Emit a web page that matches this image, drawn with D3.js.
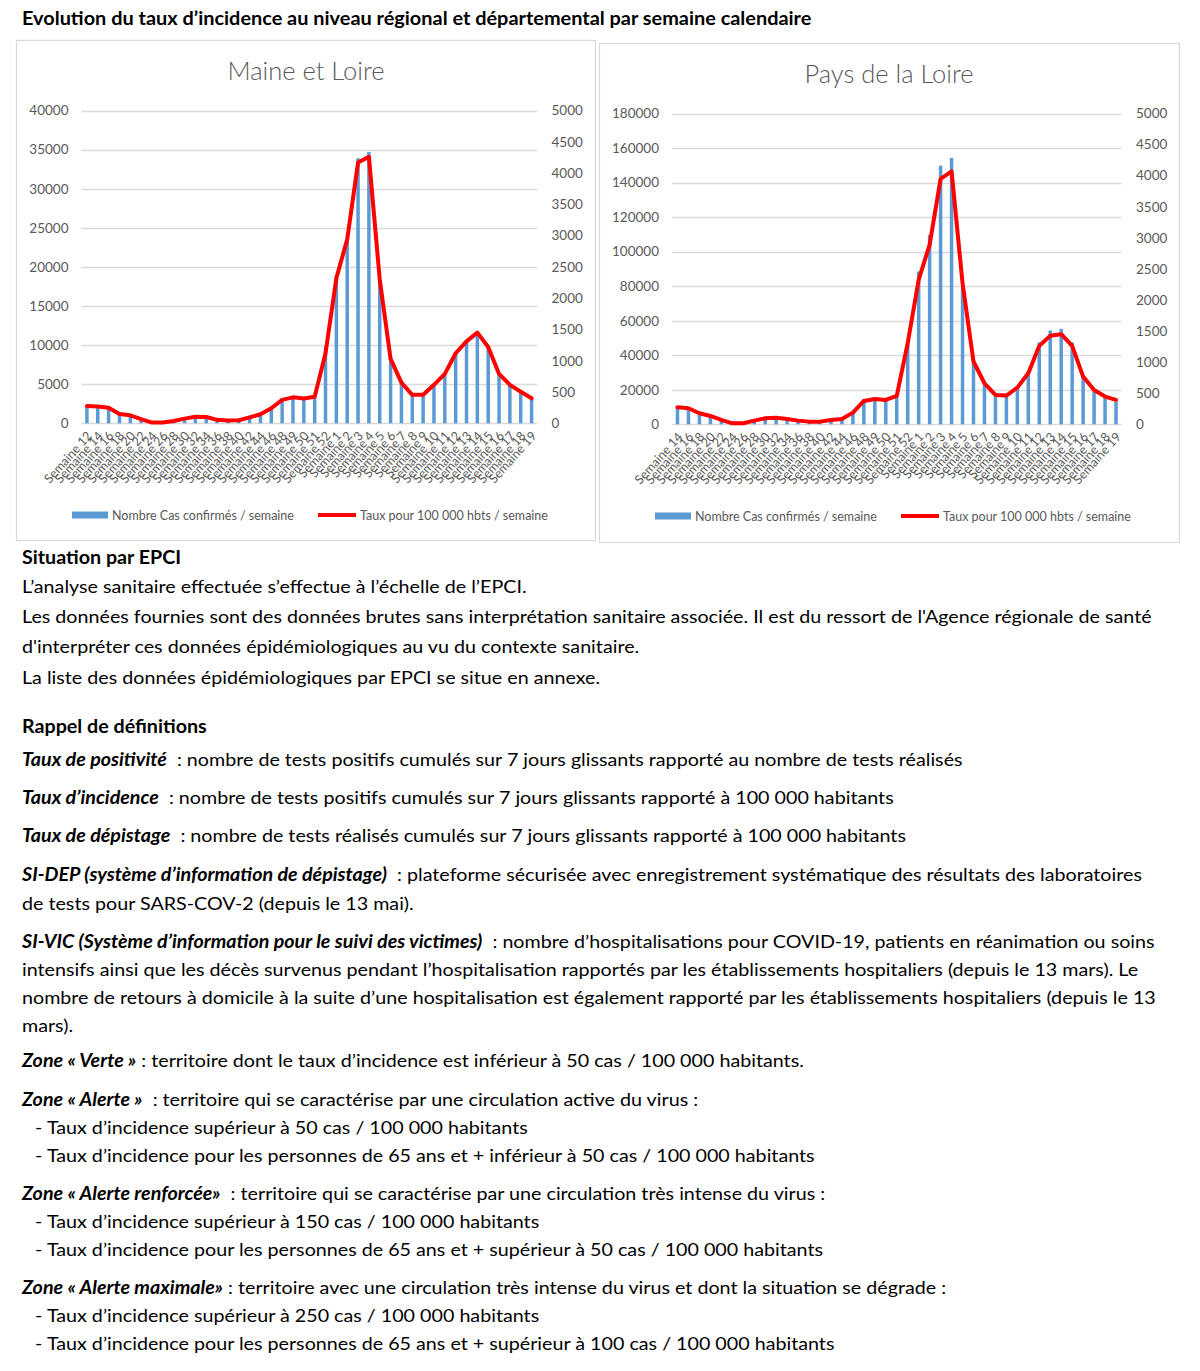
<!DOCTYPE html>
<html><head><meta charset="utf-8">
<script src="https://cdn.jsdelivr.net/npm/d3@7/dist/d3.min.js"></script>
<style>
body{margin:0;background:#fff}
svg text{white-space:pre}
</style>
</head><body>
<svg id="page" width="1200" height="1371"></svg>
<script>
// ---------- DATA ----------
const mlWeeks = [12,14,16,18,20,22,24,26,28,30,32,34,36,38,40,42,44,46,48,49,50,51,52,1,2,3,4,5,6,7,8,9,10,11,12,13,14,15,16,17,18,19];
const mlCases = [2300,2200,2000,1250,1050,550,100,100,300,600,850,800,450,350,400,750,1150,1900,3000,3300,3200,3400,9800,18900,23400,33900,34700,18200,8300,5200,3600,3600,4900,6400,9100,10500,11600,9800,6400,4900,4100,3200];
const mlRates = [277,270,250,150,128,66,12,12,37,75,105,100,55,45,48,95,145,240,375,415,395,425,1120,2320,2940,4170,4260,2300,1030,650,455,455,615,790,1120,1310,1450,1220,790,615,505,400];
const mlCaseTicks = [0,5000,10000,15000,20000,25000,30000,35000,40000];
const mlRateTicks = [0,500,1000,1500,2000,2500,3000,3500,4000,4500,5000];

const pdlWeeks = [14,16,18,20,22,24,26,28,30,32,34,36,38,40,42,44,46,48,49,50,51,52,1,2,3,4,5,6,7,8,9,10,11,12,13,14,15,16,17,18,19];
const pdlCases = [10400,9800,6700,5100,2700,600,600,2200,3700,4100,3300,2200,1600,1600,2700,3300,7100,14300,15500,15100,16400,47900,88500,109800,149800,154300,78900,36300,23800,16000,16000,20900,30500,47500,54300,55300,47500,28600,18900,15700,13100];
const pdlRates = [274,258,177,134,70,16,16,59,97,107,86,59,43,43,70,86,188,376,408,392,456,1305,2325,2890,3947,4070,2272,1010,660,473,462,590,822,1262,1423,1450,1262,768,553,446,392];
const pdlCaseTicks = [0,20000,40000,60000,80000,100000,120000,140000,160000,180000];
const pdlRateTicks = [0,500,1000,1500,2000,2500,3000,3500,4000,4500,5000];

const seriesNames = ["Nombre Cas confirmés / semaine", "Taux pour 100 000 hbts / semaine"];

// ---------- STYLE ----------
const FONT = "Lato, 'Open Sans', 'Liberation Sans', sans-serif";
const GRAY = "#595959", GRID = "#d9d9d9", BLUE = "#5b9bd5", RED = "#ff0000";

const svg = d3.select("#page").style("font-family", FONT);

function fitWidth(sel, x0, target) {
  const w = sel.node().getComputedTextLength();
  const s = target / w;
  sel.attr("transform", `translate(${x0},0) scale(${s},1) translate(${-x0},0)`);
}

// page title
const pageTitle = svg.append("text").attr("x", 22).attr("y", 25)
  .attr("font-size", 18).attr("font-weight", 700).attr("fill", "#000")
  .text("Evolution du taux d’incidence au niveau régional et départemental par semaine calendaire");
fitWidth(pageTitle, 22, 790);

function drawChart(cfg) {
  const g = svg.append("g");
  g.append("rect").attr("x", cfg.box[0] + 0.5).attr("y", cfg.box[1] + 0.5)
    .attr("width", cfg.box[2]).attr("height", cfg.box[3])
    .attr("fill", "#fff").attr("stroke", GRID).attr("stroke-width", 1.2);

  g.append("text").attr("x", cfg.titleX).attr("y", cfg.titleY)
    .attr("text-anchor", "middle").attr("font-size", 25.5).attr("font-weight", 300)
    .attr("fill", GRAY).text(cfg.title);

  const n = cfg.weeks.length;
  const x = d3.scaleBand().domain(d3.range(n)).range([cfg.left, cfg.right])
    .paddingInner(0.68).paddingOuter(0.34);
  const y = d3.scaleLinear().domain([0, d3.max(cfg.caseTicks)]).range([cfg.bottom, cfg.top]);
  const yr = d3.scaleLinear().domain([0, d3.max(cfg.rateTicks)]).range([cfg.bottom, cfg.top]);

  // gridlines
  g.append("g").selectAll("line").data(cfg.caseTicks).join("line")
    .attr("x1", cfg.left).attr("x2", cfg.right)
    .attr("y1", d => Math.round(y(d)) + 0.5).attr("y2", d => Math.round(y(d)) + 0.5)
    .attr("stroke", GRID).attr("stroke-width", 1.3);

  // left axis
  const la = g.append("g").attr("transform", `translate(${cfg.leftLabelX},0)`)
    .call(d3.axisLeft(y).tickValues(cfg.caseTicks).tickSize(0).tickPadding(0).tickFormat(d3.format("d")));
  la.select(".domain").remove();
  la.selectAll("text").attr("font-size", 13.5).attr("fill", GRAY).attr("font-family", FONT);

  // right axis
  const ra = g.append("g").attr("transform", `translate(${cfg.rightLabelX},0)`)
    .call(d3.axisRight(yr).tickValues(cfg.rateTicks).tickSize(0).tickPadding(0).tickFormat(d3.format("d")));
  ra.select(".domain").remove();
  ra.selectAll("text").attr("font-size", 13.5).attr("fill", GRAY).attr("font-family", FONT);

  // bars
  g.append("g").selectAll("rect").data(cfg.cases).join("rect")
    .attr("x", (d, i) => x(i)).attr("width", x.bandwidth())
    .attr("y", d => y(d)).attr("height", d => cfg.bottom - y(d))
    .attr("fill", BLUE);

  // line
  const line = d3.line().x((d, i) => x(i) + x.bandwidth() / 2).y(d => yr(d));
  g.append("path").datum(cfg.rates).attr("d", line)
    .attr("fill", "none").attr("stroke", RED).attr("stroke-width", 4)
    .attr("stroke-linejoin", "round").attr("stroke-linecap", "round");

  // x labels
  const xa = g.append("g").attr("transform", `translate(0,${cfg.bottom})`)
    .call(d3.axisBottom(x).tickSize(0).tickFormat(i => "Semaine " + cfg.weeks[i]));
  xa.select(".domain").remove();
  xa.selectAll("text").attr("font-size", 12.5).attr("fill", GRAY).attr("font-family", FONT)
    .attr("text-anchor", "end").attr("dy", null).attr("y", 0)
    .attr("transform", `translate(${x.bandwidth() / 2 + 4},13) rotate(-48)`);

  // legend
  const lg = g.append("g").attr("font-size", 12.5).attr("fill", GRAY);
  lg.append("rect").attr("x", cfg.legendX).attr("y", cfg.legendY - 3.5).attr("width", 36).attr("height", 7).attr("fill", BLUE);
  lg.append("text").attr("x", cfg.legendX + 40).attr("y", cfg.legendY + 4.5).attr("fill", GRAY).text(seriesNames[0]);
  lg.append("line").attr("x1", cfg.legendX2).attr("x2", cfg.legendX2 + 38)
    .attr("y1", cfg.legendY).attr("y2", cfg.legendY).attr("stroke", RED).attr("stroke-width", 4);
  lg.append("text").attr("x", cfg.legendX2 + 42).attr("y", cfg.legendY + 4.5).attr("fill", GRAY).text(seriesNames[1]);
}

drawChart({
  box: [16, 40, 579, 500], title: "Maine et Loire", titleX: 306, titleY: 80,
  weeks: mlWeeks, cases: mlCases, rates: mlRates, caseTicks: mlCaseTicks, rateTicks: mlRateTicks,
  left: 81.5, right: 537, top: 110.5, bottom: 423.3,
  leftLabelX: 68.5, rightLabelX: 551.5,
  legendX: 72, legendX2: 318, legendY: 515
});
drawChart({
  box: [599, 43, 580, 499], title: "Pays de la Loire", titleX: 889, titleY: 83,
  weeks: pdlWeeks, cases: pdlCases, rates: pdlRates, caseTicks: pdlCaseTicks, rateTicks: pdlRateTicks,
  left: 672, right: 1121.5, top: 113.5, bottom: 424.3,
  leftLabelX: 659, rightLabelX: 1136,
  legendX: 655, legendX2: 901, legendY: 516
});

// ---------- BODY TEXT ----------
const body = [
  [22, 558, [["Situation par EPCI", "b"]]],
  [22, 587, [["L’analyse sanitaire effectuée s’effectue à l’échelle de l’EPCI.", ""]]],
  [22, 617, [["Les données fournies sont des données brutes sans interprétation sanitaire associée. Il est du ressort de l'Agence régionale de santé", ""]]],
  [22, 647, [["d'interpréter ces données épidémiologiques au vu du contexte sanitaire.", ""]]],
  [22, 678, [["La liste des données épidémiologiques par EPCI se situe en annexe.", ""]]],
  [22, 727, [["Rappel de définitions", "b"]]],
  [22, 760, [["Taux de positivité", "bi"], ["  : nombre de tests positifs cumulés sur 7 jours glissants rapporté au nombre de tests réalisés", ""]]],
  [22, 798, [["Taux d’incidence", "bi"], ["  : nombre de tests positifs cumulés sur 7 jours glissants rapporté à 100 000 habitants", ""]]],
  [22, 836, [["Taux de dépistage", "bi"], ["  : nombre de tests réalisés cumulés sur 7 jours glissants rapporté à 100 000 habitants", ""]]],
  [22, 875, [["SI-DEP (système d’information de dépistage)", "bi"], ["  : plateforme sécurisée avec enregistrement systématique des résultats des laboratoires", ""]]],
  [22, 904, [["de tests pour SARS-COV-2 (depuis le 13 mai).", ""]]],
  [22, 942, [["SI-VIC (Système d’information pour le suivi des victimes)", "bi"], ["  : nombre d’hospitalisations pour COVID-19, patients en réanimation ou soins", ""]]],
  [22, 970, [["intensifs ainsi que les décès survenus pendant l’hospitalisation rapportés par les établissements hospitaliers (depuis le 13 mars). Le", ""]]],
  [22, 998, [["nombre de retours à domicile à la suite d’une hospitalisation est également rapporté par les établissements hospitaliers (depuis le 13", ""]]],
  [22, 1026, [["mars).", ""]]],
  [22, 1061, [["Zone « Verte »", "bi"], [" : territoire dont le taux d’incidence est inférieur à 50 cas / 100 000 habitants.", ""]]],
  [22, 1100, [["Zone « Alerte »", "bi"], ["  : territoire qui se caractérise par une circulation active du virus :", ""]]],
  [34, 1128, [["- Taux d’incidence supérieur à 50 cas / 100 000 habitants", ""]]],
  [34, 1156, [["- Taux d’incidence pour les personnes de 65 ans et + inférieur à 50 cas / 100 000 habitants", ""]]],
  [22, 1194, [["Zone « Alerte renforcée»", "bi"], ["  : territoire qui se caractérise par une circulation très intense du virus :", ""]]],
  [34, 1222, [["- Taux d’incidence supérieur à 150 cas / 100 000 habitants", ""]]],
  [34, 1250, [["- Taux d’incidence pour les personnes de 65 ans et + supérieur à 50 cas / 100 000 habitants", ""]]],
  [22, 1288, [["Zone « Alerte maximale»", "bi"], [" : territoire avec une circulation très intense du virus et dont la situation se dégrade :", ""]]],
  [34, 1316, [["- Taux d’incidence supérieur à 250 cas / 100 000 habitants", ""]]],
  [34, 1344, [["- Taux d’incidence pour les personnes de 65 ans et + supérieur à 100 cas / 100 000 habitants", ""]]]
];

const bodyG = svg.append("g").attr("font-size", 18).attr("fill", "#000");
const texts = [];
body.forEach(([x0, cy, segs]) => {
  const t = bodyG.append("text").attr("x", x0).attr("y", cy + 6);
  segs.forEach(([s, st]) => {
    t.append("tspan").text(s)
      .attr("font-weight", st.includes("b") ? 700 : 400)
      .attr("font-style", st.includes("i") ? "italic" : "normal");
  });
  texts.push(t);
});
const refW = texts[2].node().getComputedTextLength();
const sx = 1130 / refW;
bodyG.attr("transform", `translate(22,0) scale(${sx},1) translate(-22,0)`);
</script>
</body></html>
